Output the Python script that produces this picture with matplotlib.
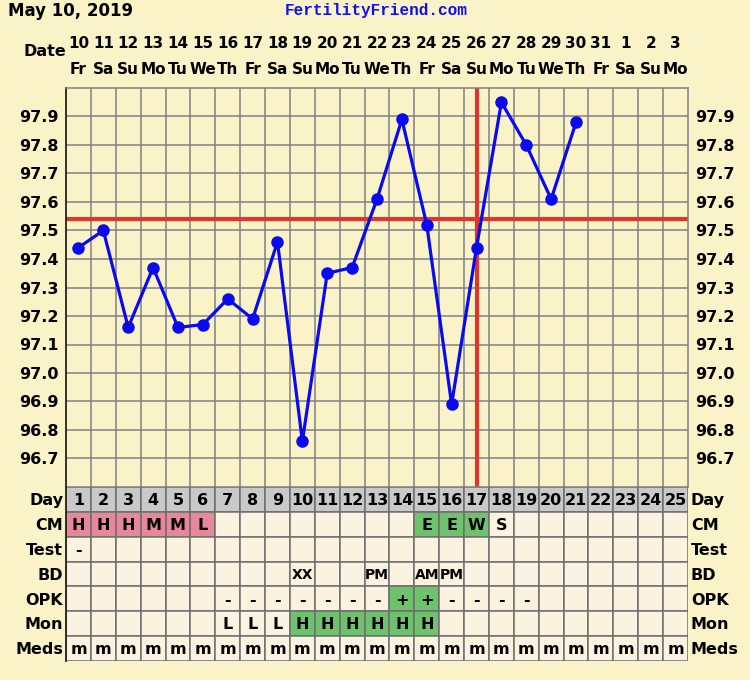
import matplotlib
matplotlib.use("Agg")
import matplotlib.pyplot as plt
from matplotlib.patches import Rectangle
from matplotlib.transforms import blended_transform_factory

# ---------------- data ----------------
cycle_days = list(range(1, 26))
dates = ["10", "11", "12", "13", "14", "15", "16", "17", "18", "19", "20", "21", "22",
         "23", "24", "25", "26", "27", "28", "29", "30", "31", "1", "2", "3"]
weekdays = ["Fr", "Sa", "Su", "Mo", "Tu", "We", "Th", "Fr", "Sa", "Su", "Mo", "Tu", "We",
            "Th", "Fr", "Sa", "Su", "Mo", "Tu", "We", "Th", "Fr", "Sa", "Su", "Mo"]
temp_days = list(range(1, 22))
temps = [97.44, 97.50, 97.16, 97.37, 97.16, 97.17, 97.26, 97.19, 97.46, 96.76,
         97.35, 97.37, 97.61, 97.89, 97.52, 96.89, 97.44, 97.95, 97.80, 97.61, 97.88]
coverline = 97.54
ovulation_day = 17
y_ticks = [96.7, 96.8, 96.9, 97.0, 97.1, 97.2, 97.3, 97.4, 97.5, 97.6, 97.7, 97.8, 97.9]

row_names = ["Day", "CM", "Test", "BD", "OPK", "Mon", "Meds"]
cm = {1: "H", 2: "H", 3: "H", 4: "M", 5: "M", 6: "L", 15: "E", 16: "E", 17: "W", 18: "S"}
cm_pink = [1, 2, 3, 4, 5, 6]
cm_green = [15, 16, 17]
test = {1: "-"}
bd = {10: "XX", 13: "PM", 15: "AM", 16: "PM"}
opk = {7: "-", 8: "-", 9: "-", 10: "-", 11: "-", 12: "-", 13: "-", 14: "+", 15: "+",
       16: "-", 17: "-", 18: "-", 19: "-"}
opk_green = [14, 15]
mon = {7: "L", 8: "L", 9: "L", 10: "H", 11: "H", 12: "H", 13: "H", 14: "H", 15: "H"}
mon_green = [10, 11, 12, 13, 14, 15]
meds = {d: "m" for d in cycle_days}

# ---------------- style ----------------
BG = "#FAF3C8"
CELL = "#FBF3E0"
GREY_ROW = "#C9C9C9"
PINK = "#E8879A"
GREEN = "#6DC26B"
GRID = "#7F7F86"
BLUE = "#0A0AF0"
RED = "#E0352A"
FONT = "DejaVu Sans"

W, H = 750, 680
fig = plt.figure(figsize=(W / 100, H / 100), dpi=100, facecolor=BG)

def fx(px):
    return px / W

def fy(py):
    return 1 - py / H

# main chart axes: pixels x 66..688, y 88..487
L, R, T, B = 66, 688, 88, 487
ax = fig.add_axes([fx(L), fy(B), fx(R - L), (B - T) / H])
ax.set_facecolor(BG)
ax.set_xlim(0.5, 25.5)
ax.set_ylim(96.6, 98.0)

for d in range(1, 25):
    ax.axvline(d + 0.5, color=GRID, lw=1.1, zorder=1)
for yv in y_ticks:
    ax.axhline(yv, color=GRID, lw=1.1, zorder=1)

ax.axhline(coverline, color=RED, lw=3, zorder=2)
ax.axvline(ovulation_day, color=RED, lw=3, zorder=2)
ax.plot(temp_days, temps, color=BLUE, lw=2.3, marker="o", ms=8, zorder=3)

for s in ["top", "right", "bottom"]:
    ax.spines[s].set_color(GRID)
    ax.spines[s].set_linewidth(1.1)
ax.spines["left"].set_color("#222222")
ax.spines["left"].set_linewidth(1.3)

ax.set_xticks([])
ax.set_yticks(y_ticks)
ax.set_yticklabels([f"{v:.1f}" for v in y_ticks], fontsize=11.5, fontweight="bold",
                   fontfamily=FONT)
ax.tick_params(axis="y", length=0, pad=5, labelright=True, labelleft=True)

# header texts
fig.text(fx(8), fy(11), "May 10, 2019", fontsize=12, fontweight="bold",
         fontfamily=FONT, va="center", ha="left")
fig.text(fx(376), fy(11), "FertilityFriend.com", fontsize=11.5, fontweight="bold",
         fontfamily="Liberation Mono", color="#1010F0", va="center", ha="center")
fig.text(fx(45), fy(52), "Date", fontsize=11.5, fontweight="bold", fontfamily=FONT,
         va="center", ha="center")
tr = blended_transform_factory(ax.transData, fig.transFigure)
for d, dt, wd in zip(cycle_days, dates, weekdays):
    fig.text(d, fy(44), dt, transform=tr, fontsize=11, fontweight="bold",
             fontfamily=FONT, ha="center", va="center")
    fig.text(d, fy(70), wd, transform=tr, fontsize=11, fontweight="bold",
             fontfamily=FONT, ha="center", va="center")

# table axes: pixels y 487..661
TB = 661
tax = fig.add_axes([fx(L), fy(TB), fx(R - L), (TB - B) / H])
tax.set_xlim(0.5, 25.5)
tax.set_ylim(len(row_names), 0)
tax.axis("off")

row_data = [None, cm, test, bd, opk, mon, meds]
row_green = [[], cm_green, [], [], opk_green, mon_green, []]
row_pink = [[], cm_pink, [], [], [], [], []]

for r, name in enumerate(row_names):
    for d in cycle_days:
        if r == 0:
            fc = GREY_ROW
        elif d in row_green[r]:
            fc = GREEN
        elif d in row_pink[r]:
            fc = PINK
        else:
            fc = CELL
        tax.add_patch(Rectangle((d - 0.5, r), 1, 1, facecolor=fc, edgecolor="#6E6E6E",
                                lw=1.1, zorder=1))
        if r == 0:
            txt = str(d)
        else:
            txt = row_data[r].get(d, "")
        if txt:
            fs = 10 if len(txt) > 1 and r > 0 else 11.5
            tax.text(d, r + 0.55, txt, fontsize=fs, fontweight="bold", fontfamily=FONT,
                     ha="center", va="center", zorder=3)
    tax.text(0.38, r + 0.55, name, fontsize=11.5, fontweight="bold", fontfamily=FONT,
             ha="right", va="center", clip_on=False)
    tax.text(25.62, r + 0.55, name, fontsize=11.5, fontweight="bold", fontfamily=FONT,
             ha="left", va="center", clip_on=False)

tax.plot([0.5, 0.5], [0, len(row_names)], color="#222222", lw=1.3, zorder=4,
         clip_on=False)

fig.savefig("out.png", dpi=100, facecolor=BG)
